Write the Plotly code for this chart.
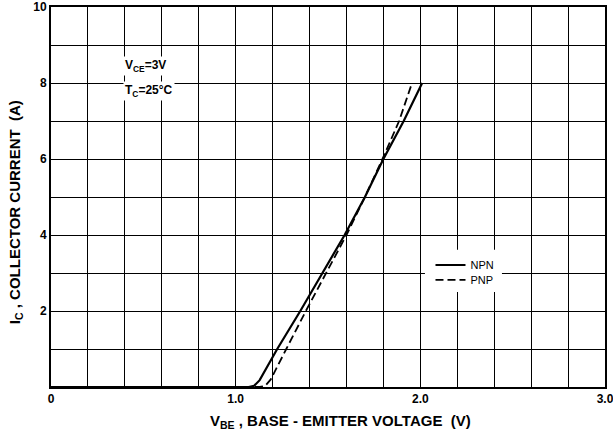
import plotly.graph_objects as go

# Data
npn_vbe = [0.0, 1.07, 1.10, 1.13, 1.225, 1.35, 1.59, 1.70, 1.80, 1.91, 2.01]
npn_ic = [0.0, 0.0, 0.03, 0.18, 1.0, 2.0, 4.0, 5.0, 6.0, 7.0, 8.0]
pnp_vbe = [0.0, 1.13, 1.16, 1.19, 1.274, 1.38, 1.60, 1.70, 1.795, 1.885, 1.955]
pnp_ic = [0.0, 0.0, 0.03, 0.2, 1.0, 2.0, 4.0, 5.0, 6.0, 7.0, 8.0]

x_grid = [round(i * 0.2, 1) for i in range(16)]
x_labels = {0.0: "0", 1.0: "1.0", 2.0: "2.0", 3.0: "3.0"}
y_grid = list(range(11))
y_labels = {2: "2", 4: "4", 6: "6", 8: "8", 10: "10"}

FONT = "Liberation Sans, Arial, sans-serif"

fig = go.Figure()
fig.add_trace(go.Scatter(x=npn_vbe, y=npn_ic, mode="lines", name="NPN",
                         legend="legend2",
                         line=dict(color="black", width=2.2)))
fig.add_trace(go.Scatter(x=pnp_vbe, y=pnp_ic, mode="lines", name="PNP",
                         legend="legend",
                         line=dict(color="black", width=1.8, dash="8px,4px")))

leg_common = dict(xanchor="left", yanchor="middle", bgcolor="rgba(0,0,0,0)",
                  borderwidth=0, font=dict(size=11, family=FONT, color="black"),
                  itemwidth=30)

fig.update_layout(
    width=613, height=431,
    margin=dict(l=51, r=8, t=7, b=44),
    paper_bgcolor="white", plot_bgcolor="white",
    font=dict(family=FONT, color="black"),
    showlegend=True,
    legend=dict(x=0.685, y=0.282, **leg_common),
    legend2=dict(x=0.685, y=0.321, **leg_common),
    # white backing behind the legend block
    shapes=[dict(type="rect", xref="paper", yref="paper",
                 x0=0.675, x1=0.814, y0=0.250, y1=0.361,
                 fillcolor="white", line=dict(width=0), layer="above")],
    xaxis=dict(range=[0, 3], tickmode="array", tickvals=x_grid,
               ticktext=[x_labels.get(v, "") for v in x_grid],
               showgrid=True, gridcolor="black", gridwidth=1,
               showline=True, linecolor="black", linewidth=2, mirror=True,
               ticks="", zeroline=False, automargin=False,
               ticklabeloverflow="allow",
               tickfont=dict(size=12, family=FONT, weight="bold")),
    yaxis=dict(range=[0, 10], tickmode="array", tickvals=y_grid,
               ticktext=[y_labels.get(v, "") for v in y_grid],
               showgrid=True, gridcolor="black", gridwidth=1,
               showline=True, linecolor="black", linewidth=2, mirror=True,
               ticks="", zeroline=False, automargin=False,
               ticklabeloverflow="allow",
               tickfont=dict(size=12, family=FONT, weight="bold")),
    annotations=[
        dict(x=0.523, y=-0.092, xref="paper", yref="paper",
             xanchor="center", yanchor="middle", showarrow=False,
             text="V<sub>BE</sub> , BASE - EMITTER VOLTAGE\u00a0\u00a0(V)",
             font=dict(size=15, family=FONT, weight="bold")),
        dict(x=-0.065, y=0.46, xref="paper", yref="paper", textangle=-90,
             xanchor="center", yanchor="middle", showarrow=False,
             text="I<sub>C</sub> , COLLECTOR CURRENT\u00a0\u00a0(A)",
             font=dict(size=15, family=FONT, weight="bold")),
        dict(x=0.39, y=8.45, xref="x", yref="y", xanchor="left", yanchor="middle",
             text="V<sub>CE</sub>=3V", showarrow=False, bgcolor="white",
             font=dict(size=12, family=FONT, weight="bold")),
        dict(x=0.39, y=7.8, xref="x", yref="y", xanchor="left", yanchor="middle",
             text="T<sub>C</sub>=25°C", showarrow=False, bgcolor="white",
             font=dict(size=12, family=FONT, weight="bold")),
    ],
)

fig.write_html("out.html", config={"responsive": False, "displayModeBar": False},
               post_script="document.body.style.margin='0';document.body.style.padding='0';")
